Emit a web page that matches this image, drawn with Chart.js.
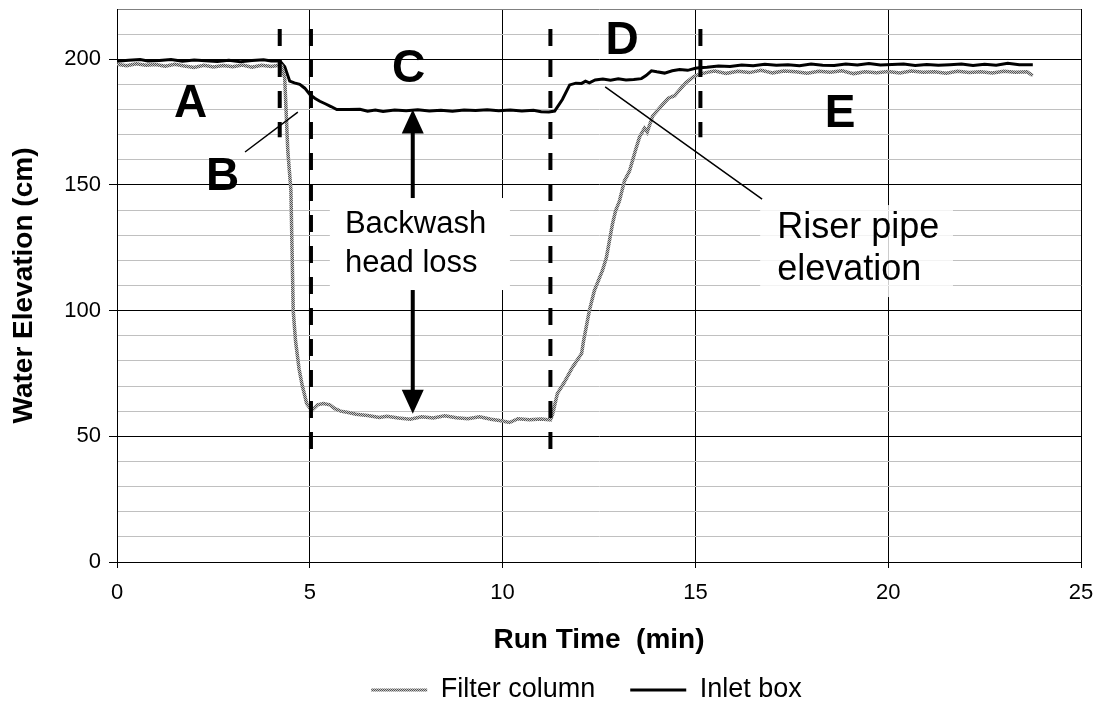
<!DOCTYPE html>
<html>
<head>
<meta charset="utf-8">
<script src="https://cdn.jsdelivr.net/npm/chart.js@4.4.1/dist/chart.umd.min.js"></script>
<style>
  body { margin: 0; background: #fff; }
</style>
</head>
<body>
<canvas id="elev-chart" width="1103" height="713"></canvas>
<script>
/* 데이터: run time (min) / water elevation (cm) */
var filterTime = [0.00, 0.25, 0.50, 0.75, 1.00, 1.25, 1.50, 1.75, 2.00, 2.25, 2.50, 2.75, 3.00, 3.25, 3.50, 3.75, 4.00, 4.20, 4.27,
  4.35, 4.43, 4.51, 4.54, 4.57, 4.63, 4.72, 4.80, 4.92, 5.05, 5.20, 5.35, 5.52, 5.65, 5.80, 6.00, 6.20, 6.50, 6.80, 7.00,
  7.30, 7.60, 7.90, 8.20, 8.50, 8.80, 9.10, 9.40, 9.70, 9.92, 10.18, 10.40, 10.70, 11.00, 11.24, 11.30, 11.42, 11.60, 11.81,
  12.05, 12.10, 12.25, 12.38, 12.59, 12.69, 12.85, 12.93, 13.03, 13.16, 13.29, 13.45, 13.55, 13.68, 13.75, 13.89, 14.15,
  14.30, 14.46, 14.60, 14.75, 14.95, 15.10, 15.30, 15.50, 15.80, 16.10, 16.40, 16.70, 17.00, 17.30, 17.60, 17.90, 18.20,
  18.50, 18.80, 19.10, 19.40, 19.70, 20.00, 20.30, 20.60, 20.90, 21.20, 21.50, 21.80, 22.10, 22.40, 22.70, 23.00, 23.30,
  23.60, 23.75];
var filterLevel = [198.0, 197.4, 198.2, 197.6, 197.9, 197.2, 198.0, 197.3, 196.7, 197.6, 196.9, 197.5, 197.0, 197.7, 196.8, 197.6, 197.1, 197.6, 197.5,
  192.5, 163.5, 148.0, 124.0, 100.0, 88.0, 77.0, 70.5, 63.0, 60.3, 62.5, 63.0, 62.5, 61.0, 60.0, 59.5, 58.8, 58.3, 57.5, 58.0,
  57.3, 56.8, 57.8, 57.3, 58.2, 57.4, 57.0, 57.8, 56.8, 56.3, 55.5, 57.0, 56.6, 56.9, 56.5, 59.0, 67.0, 71.5, 77.4,
  83.0, 88.0, 100.0, 108.0, 116.0, 121.0, 134.5, 139.7, 143.6, 151.6, 155.5, 164.0, 169.0, 172.6, 171.0, 177.4, 182.0,
  184.5, 185.5, 188.0, 190.6, 193.0, 194.0, 194.8, 195.3, 194.4, 195.2, 194.7, 195.6, 194.6, 195.3, 195.0, 194.4, 195.2,
  194.8, 195.4, 194.3, 195.0, 194.6, 195.1, 194.5, 195.3, 194.8, 195.0, 194.4, 195.2, 194.7, 195.0, 194.5, 195.2, 194.8,
  195.0, 193.5];

var inletTime = [0.00, 0.30, 0.60, 0.80, 1.10, 1.40, 1.70, 2.00, 2.30, 2.60, 2.90, 3.20, 3.50, 3.80, 4.00, 4.22,
  4.35, 4.48, 4.60, 4.74, 4.87, 5.00, 5.13, 5.26, 5.40, 5.55, 5.70, 6.00, 6.30, 6.50, 6.70, 6.90, 7.20, 7.50, 7.80,
  8.10, 8.40, 8.70, 9.00, 9.30, 9.60, 9.90, 10.20, 10.50, 10.80, 11.00, 11.20, 11.35, 11.55, 11.74, 11.90, 12.05,
  12.15, 12.25, 12.40, 12.60, 12.80, 13.00, 13.20, 13.40, 13.60, 13.72, 13.86, 14.00, 14.20, 14.40, 14.59, 14.80,
  15.00, 15.10, 15.30, 15.60, 15.90, 16.20, 16.50, 16.80, 17.10, 17.40, 17.70, 18.00, 18.30, 18.60, 18.90, 19.20,
  19.50, 19.80, 20.10, 20.40, 20.70, 21.00, 21.30, 21.60, 21.90, 22.20, 22.50, 22.80, 23.10, 23.40, 23.75];
var inletLevel = [199.2, 199.6, 199.9, 199.3, 199.5, 199.9, 199.2, 199.7, 199.4, 199.1, 199.6, 199.0, 199.5, 199.8, 199.3, 199.4,
  197.0, 191.3, 190.6, 190.0, 188.5, 186.0, 184.5, 183.3, 182.3, 181.2, 180.0, 180.0, 180.1, 179.3, 179.8, 179.2, 179.8, 179.5, 179.9,
  179.4, 179.7, 179.3, 179.8, 179.6, 179.9, 179.5, 179.8, 179.4, 179.7, 179.1, 179.0, 179.4, 184.0, 189.8, 190.5, 190.4,
  191.3, 190.6, 191.8, 192.1, 191.7, 192.2, 191.8, 192.0, 192.3, 193.5, 195.4, 195.0, 194.5, 195.4, 195.9, 195.6,
  196.4, 196.6, 196.8, 197.3, 197.1, 197.7, 197.4, 198.0, 197.6, 197.8, 197.4, 198.1, 197.6, 197.5, 198.1, 197.7,
  198.3, 197.7, 197.9, 198.1, 197.5, 197.9, 197.6, 197.8, 198.1, 197.5, 198.0, 197.6, 198.4, 197.8, 197.8];

var seriesNames = ['Filter column', 'Inlet box'];
var yMajor = 50;

/* 구간 경계 (phase boundaries), min */
var phaseLines = [
  { t: 4.22, top: 212, bottom: 169 },
  { t: 5.03, top: 212, bottom: 45 },
  { t: 11.24, top: 212, bottom: 45 },
  { t: 15.13, top: 212, bottom: 169 }
];
var phaseLabels = [
  { text: 'A', t: 1.91, y: 177.0 },
  { text: 'B', t: 2.74, y: 148.0 },
  { text: 'C', t: 7.56, y: 191.0 },
  { text: 'D', t: 13.10, y: 202.1 },
  { text: 'E', t: 18.75, y: 173.1 }
];

var FONT = "'Liberation Sans', Arial, sans-serif";

function toPoints(xs, ys){
  var pts = [];
  for(var i = 0; i < xs.length; i++){
    pts.push({ x: xs[i], y: ys[i] });
  }
  return pts;
}

/* 회색 체크 무늬 선 */
function greyTexture(){
  var c = document.createElement('canvas');
  c.width = 2; c.height = 2;
  var g = c.getContext('2d');
  g.fillStyle = '#c6c6c6';
  g.fillRect(0, 0, 2, 2);
  g.fillStyle = '#555';
  g.fillRect(0, 0, 1, 1);
  g.fillRect(1, 1, 1, 1);
  return g.createPattern(c, 'repeat');
}
var greyLine = greyTexture();

var notes = {
  id: 'notes',
  afterDatasetsDraw: function(chart){
    var ctx = chart.ctx;
    var xs = chart.scales.x, ys = chart.scales.y;
    var px = function(v){ return xs.getPixelForValue(v); };
    var py = function(v){ return ys.getPixelForValue(v); };
    ctx.save();

    // dashed phase lines
    ctx.strokeStyle = '#000';
    ctx.lineWidth = 4;
    ctx.setLineDash([17, 14]);
    phaseLines.forEach(function(p){
      ctx.beginPath();
      ctx.moveTo(px(p.t), py(p.top));
      ctx.lineTo(px(p.t), py(p.bottom));
      ctx.stroke();
    });
    ctx.setLineDash([]);

    // backwash head loss arrow
    var ax = px(7.67), aTop = py(180), aBot = py(59);
    var hw = 11, hh = 24;
    ctx.lineWidth = 4;
    ctx.beginPath();
    ctx.moveTo(ax, aTop + hh - 2);
    ctx.lineTo(ax, aBot - hh + 2);
    ctx.stroke();
    ctx.fillStyle = '#000';
    ctx.beginPath();
    ctx.moveTo(ax, aTop); ctx.lineTo(ax - hw, aTop + hh); ctx.lineTo(ax + hw, aTop + hh);
    ctx.closePath(); ctx.fill();
    ctx.beginPath();
    ctx.moveTo(ax, aBot); ctx.lineTo(ax - hw, aBot - hh); ctx.lineTo(ax + hw, aBot - hh);
    ctx.closePath(); ctx.fill();

    // text boxes
    ctx.fillStyle = '#fff';
    ctx.fillRect(px(5.52), py(144.8), px(10.19) - px(5.52), py(108.2) - py(144.8));
    ctx.fillStyle = 'rgba(255,255,255,0.8)';
    ctx.fillRect(px(16.68), py(142), px(21.68) - px(16.68), py(105.4) - py(142));

    ctx.fillStyle = '#000';
    ctx.textAlign = 'left';
    ctx.textBaseline = 'alphabetic';
    ctx.font = '31px ' + FONT;
    ctx.fillText('Backwash', px(5.91), py(130.9));
    ctx.fillText('head loss', px(5.91), py(115.4));
    ctx.font = '36px ' + FONT;
    ctx.fillText('Riser pipe', px(17.12), py(128.9));
    ctx.fillText('elevation', px(17.12), py(112.2));

    // leader lines
    ctx.lineWidth = 1.5;
    ctx.beginPath();
    ctx.moveTo(px(12.66), py(189.0)); ctx.lineTo(px(16.73), py(144.4));
    ctx.moveTo(px(3.32), py(163.1)); ctx.lineTo(px(4.69), py(179.0));
    ctx.stroke();

    // phase letters
    ctx.font = 'bold 46px ' + FONT;
    ctx.textAlign = 'center';
    phaseLabels.forEach(function(l){
      ctx.fillText(l.text, px(l.t), py(l.y));
    });
    ctx.restore();
  }
};

/* 범례 위치 조정 */
var legendPlace = {
  id: 'legendPlace',
  afterLayout: function(chart){
    var lg = chart.legend;
    lg.top = 690 - 35 - 13.5;
    lg.height = 90;
    lg.bottom = lg.top + lg.height;
    lg.left += 46;
    lg.right += 46;
  }
};

var chartCtx = document.getElementById('elev-chart');
var chartConfig = {
  type: 'line',
  data: {
    datasets: [{
      label: seriesNames[0],
      data: toPoints(filterTime, filterLevel),
      borderColor: greyLine,
      backgroundColor: greyLine,
      borderWidth: 3.5,
      pointRadius: 0,
      tension: 0,
      fill: false
    }, {
      label: seriesNames[1],
      data: toPoints(inletTime, inletLevel),
      borderColor: '#000',
      backgroundColor: '#000',
      borderWidth: 3,
      pointRadius: 0,
      tension: 0,
      fill: false
    }]
  },
  options: {
    responsive: false,
    animation: false,
    layout: { padding: { left: 0, right: 22, top: 9, bottom: 0 } },
    plugins: {
      tooltip: { enabled: false },
      legend: {
        position: 'bottom',
        maxHeight: 30,
        labels: {
          font: { family: FONT, size: 27 },
          color: '#000',
          boxWidth: 56,
          boxHeight: 3,
          padding: 35,
          generateLabels: function(chart){
            return chart.data.datasets.map(function(ds, i){
              return { text: ds.label, fillStyle: ds.borderColor, strokeStyle: ds.borderColor, lineWidth: 0, datasetIndex: i, hidden: false };
            });
          }
        }
      }
    },
    scales: {
      x: {
        type: 'linear',
        min: 0,
        max: 25,
        afterFit: function(s){
          s.height = s.chart.height - 562 - s.chart.legend.height;
          s.paddingLeft = 0;
          s.paddingRight = 0;
        },
        ticks: { stepSize: 5, color: '#000', padding: 12, font: { family: FONT, size: 22 } },
        grid: { color: '#000', tickLength: 6, tickColor: '#000' },
        border: { color: '#000' },
        title: { display: true, text: 'Run Time  (min)', color: '#000', font: { family: FONT, size: 28, weight: 'bold' }, padding: { top: 0, bottom: 26 } }
      },
      y: {
        min: 0,
        max: 220,
        afterFit: function(s){
          s.width = 117;
          s.paddingTop = 0;
          s.paddingBottom = 0;
        },
        ticks: {
          stepSize: 10,
          autoSkip: false,
          color: '#000',
          padding: 8,
          font: { family: FONT, size: 22 },
          callback: function(v){ return v % yMajor === 0 ? v : ''; }
        },
        grid: {
          tickLength: 8,
          color: function(c){
            if(c.tick.value % yMajor === 0) return '#000';
            return c.tick.value === 220 ? '#808080' : '#c0c0c0';
          },
          tickColor: function(c){ return c.tick.value % yMajor === 0 ? '#000' : 'rgba(0,0,0,0)'; }
        },
        border: { color: '#000' },
        title: { display: true, text: 'Water Elevation (cm)', color: '#000', font: { family: FONT, size: 28, weight: 'bold' }, padding: { top: 7, bottom: 0 } }
      }
    }
  },
  plugins: [notes, legendPlace]
};
var elevChart = new Chart(chartCtx, chartConfig);
</script>
</body>
</html>
